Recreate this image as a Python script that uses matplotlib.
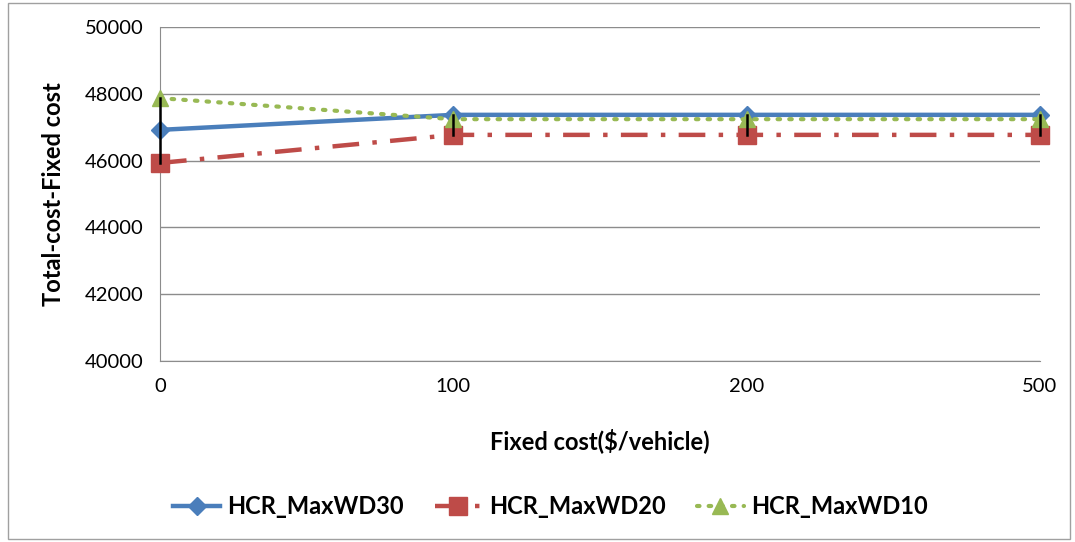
import matplotlib
matplotlib.use("Agg")
from matplotlib import pyplot as plt
from matplotlib.patches import Rectangle

plt.rcParams['font.family'] = ['Lato', 'DejaVu Sans']

categories = ['0', '100', '200', '500']
wd30 = [46920, 47370, 47370, 47370]
wd20 = [45930, 46770, 46770, 46770]
wd10 = [47870, 47240, 47240, 47240]
yticks = [40000, 42000, 44000, 46000, 48000, 50000]

fig = plt.figure(figsize=(10.75, 5.42), dpi=100)
ax = fig.add_axes([160 / 1075, 1 - 361 / 542, 880 / 1075, 334 / 542])
x = list(range(len(categories)))

# high-low lines
for i in x:
    vals = [wd30[i], wd20[i], wd10[i]]
    ax.plot([i, i], [min(vals), max(vals)], color='black', lw=1.8, zorder=4, clip_on=False)

ax.plot(x, wd30, color='#4a7ebb', lw=3.2, marker='D', ms=9, label='HCR_MaxWD30',
        zorder=3, clip_on=False)
ax.plot(x, wd20, color='#be4b48', lw=3.2, dashes=(6, 3, 1, 3), marker='s', ms=13,
        label='HCR_MaxWD20', zorder=3, clip_on=False)
ax.plot(x, wd10, color='#98b954', lw=3, linestyle=(0, (0.6, 2.2)), dash_capstyle='round',
        marker='^', ms=12, label='HCR_MaxWD10', zorder=3, clip_on=False)

ax.set_xlim(0, 3)
ax.set_ylim(40000, 50000)
ax.set_xticks(x)
ax.set_xticklabels(categories)
ax.set_yticks(yticks)
ax.tick_params(length=0, labelsize=14.5, pad=12)
ax.yaxis.grid(True, color='#8c8c8c', lw=1)
ax.set_axisbelow(True)
for s in ['top', 'right']:
    ax.spines[s].set_visible(False)
for s in ['left', 'bottom']:
    ax.spines[s].set_color('#8c8c8c')
ax.set_xlabel('Fixed cost($/vehicle)', fontsize=17, fontweight='bold', labelpad=24)
ax.set_ylabel('Total-cost-Fixed cost', fontsize=17, fontweight='bold', labelpad=14)

handles, labels = ax.get_legend_handles_labels()
fig.legend(handles, labels, loc='center', bbox_to_anchor=(0.512, 1 - 507 / 542), ncol=3,
           frameon=False, prop={'weight': 'bold', 'size': 17},
           handlelength=2.0, handletextpad=0.3, columnspacing=1.3)

fig.patches.append(Rectangle((8 / 1075, 3 / 542), 1062 / 1075, 536 / 542, transform=fig.transFigure,
                             fill=False, edgecolor='#a0a0a0', lw=1))

fig.savefig('out.png', dpi=100)
